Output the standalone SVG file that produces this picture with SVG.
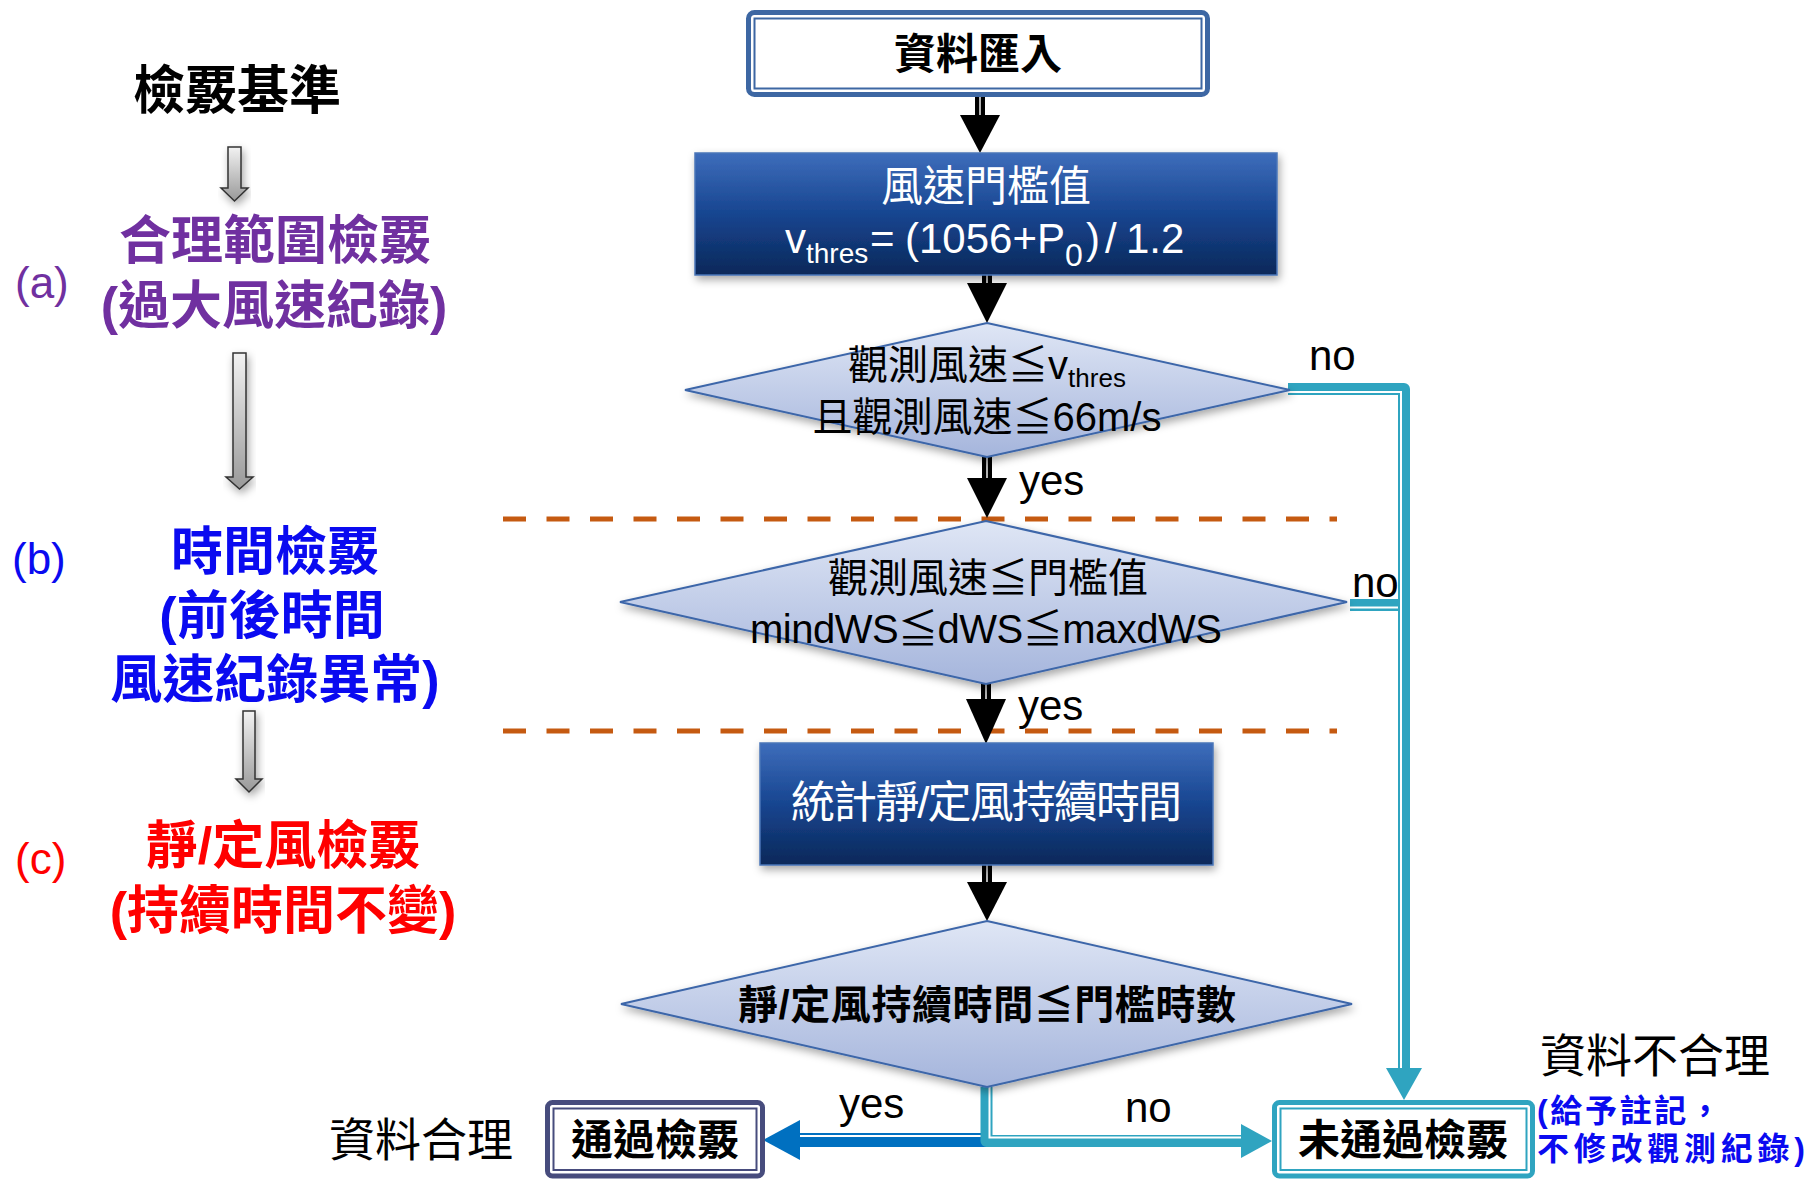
<svg xmlns="http://www.w3.org/2000/svg" width="1810" height="1179" viewBox="0 0 1810 1179">
<defs>
<linearGradient id="gBlue" x1="0" y1="0" x2="0" y2="1">
<stop offset="0" stop-color="#3e6dbb"/>
<stop offset="0.5" stop-color="#174590"/>
<stop offset="1" stop-color="#0b2859"/>
</linearGradient>
<linearGradient id="gDia" x1="0" y1="0" x2="0" y2="1">
<stop offset="0" stop-color="#dfe6f5"/>
<stop offset="1" stop-color="#a5b5dc"/>
</linearGradient>
<linearGradient id="gGray" x1="0" y1="0" x2="0" y2="1">
<stop offset="0" stop-color="#f2f2f2"/>
<stop offset="1" stop-color="#999999"/>
</linearGradient>
<filter id="sh" x="-10%" y="-10%" width="120%" height="140%">
<feDropShadow dx="2" dy="4" stdDeviation="4" flood-color="#000" flood-opacity="0.35"/>
</filter>
</defs>
<style>
.t{font-family:"Liberation Sans","Noto Sans CJK TC",sans-serif}
.b{font-weight:bold}
.w{fill:#ffffff}
.k{fill:#000000}
.m{text-anchor:middle}
.lab{font-size:42px}
.rect{fill:url(#gBlue);stroke:#4a76b8;stroke-width:1.5}
.dia{fill:url(#gDia);stroke:#3c66a9;stroke-width:2}
.garrow{fill:url(#gGray);stroke:#333;stroke-width:1.5}
.dash{stroke:#c55a11;stroke-width:5;stroke-dasharray:23 20.5;fill:none}
.teal{stroke:#2fa4c0;fill:none;stroke-linejoin:round}
.tealf{fill:#2fa4c0}
.wl{stroke:#ffffff;fill:none}
.blk{fill:#000}
</style>

<!-- left side legend -->
<g id="legend">
<text class="t b k m" x="237" y="109" font-size="52">檢覈基準</text>
<polygon class="garrow" points="228,147 241,147 241,188 248,188 234.5,201 221,188 228,188" filter="url(#sh)"/>
<text class="t" x="15" y="298" font-size="44" fill="#7030a0">(a)</text>
<text class="t b m" x="275" y="259" font-size="52" fill="#7030a0">合理範圍檢覈</text>
<text class="t b m" x="274" y="324" font-size="52" fill="#7030a0">(過大風速紀錄)</text>
<polygon class="garrow" points="233,353 246,353 246,477 253,477 239.5,489 226,477 233,477" filter="url(#sh)"/>
<text class="t" x="12" y="574" font-size="44" fill="#0a0af0">(b)</text>
<text class="t b m" x="275" y="570" font-size="52" fill="#0a0af0">時間檢覈</text>
<text class="t b m" x="272" y="634" font-size="52" fill="#0a0af0">(前後時間</text>
<text class="t b m" x="275" y="698" font-size="52" fill="#0a0af0">風速紀錄異常)</text>
<polygon class="garrow" points="243,711 255,711 255,779 262,779 249,792 236,779 243,779" filter="url(#sh)"/>
<text class="t" x="15" y="874" font-size="44" fill="#ff0000">(c)</text>
<text class="t b m" x="283" y="864" font-size="52" fill="#ff0000">靜/定風檢覈</text>
<text class="t b m" x="283" y="929" font-size="52" fill="#ff0000">(持續時間不變)</text>
</g>

<!-- dashed separators -->
<g id="separators">
<line class="dash" x1="503" y1="519" x2="1337" y2="519"/>
<line class="dash" x1="503" y1="731" x2="1337" y2="731"/>
</g>

<!-- connectors -->
<g id="connectors">
<rect class="blk" x="975" y="96" width="10" height="21"/><rect x="979.3" y="96" width="1.4" height="20" fill="#fff"/>
<polygon class="blk" points="960,115 1000,115 980,153"/>
<rect class="blk" x="982" y="274" width="10" height="11"/><rect x="986.3" y="274" width="1.4" height="10" fill="#fff"/>
<polygon class="blk" points="967,283 1007,283 987,323"/>
<rect class="blk" x="982" y="456" width="10" height="24"/><rect x="986.3" y="456" width="1.4" height="23" fill="#fff"/>
<polygon class="blk" points="967,478 1007,478 987,518"/>
<rect class="blk" x="981" y="683" width="10" height="19"/><rect x="985.3" y="683" width="1.4" height="18" fill="#fff"/>
<polygon class="blk" points="966,699 1006,699 986,744"/>
<rect class="blk" x="982" y="864" width="10" height="20"/><rect x="986.3" y="864" width="1.4" height="19" fill="#fff"/>
<polygon class="blk" points="967,882 1007,882 987,921"/>

<path class="teal" d="M1288,389 H1404 V1070" stroke-width="12"/>
<path class="wl" d="M1288,392 H1401 V1070" stroke-width="2"/>
<polygon class="tealf" points="1386,1068 1422,1068 1404,1100"/>

<path class="teal" d="M1350,605 H1400" stroke-width="12"/>
<path class="wl" d="M1350,607.5 H1398" stroke-width="2.2"/>

<path d="M986,1140 H798" stroke="#0070c0" stroke-width="14" fill="none"/>
<path d="M986,1136 H798" stroke="#ffffff" stroke-width="2" fill="none"/>
<polygon points="800,1120 800,1160 763,1140" fill="#0070c0"/>

<path class="teal" d="M986.5,1087 V1141 H1243" stroke-width="12"/>
<path class="wl" d="M989.5,1087 V1137.5 H1243" stroke-width="2"/>
<polygon class="tealf" points="1241,1124 1241,1158 1272,1141"/>
</g>

<!-- nodes -->
<g id="n_input">
<rect x="748.5" y="12.5" width="459" height="82" rx="6" fill="#fff" stroke="#3d67a3" stroke-width="5"/>
<rect x="754.5" y="18.5" width="447" height="70" fill="none" stroke="#3d67a3" stroke-width="2"/>
<text class="t b k m" x="978" y="69" font-size="42">資料匯入</text>
</g>

<g id="n_threshold">
<rect class="rect" x="695" y="153" width="582" height="122" filter="url(#sh)"/>
<text class="t w m" x="986" y="201" font-size="42">風速門檻值</text>
<text class="t w" y="253" font-size="42"><tspan x="785">v</tspan><tspan font-size="28" dy="10">thres</tspan><tspan x="870" dy="-10">=</tspan><tspan x="905">(1056+P</tspan><tspan x="1065" font-size="32" dy="13">0</tspan><tspan x="1086" dy="-13">)</tspan><tspan x="1105">/</tspan><tspan x="1126">1.2</tspan></text>
</g>

<g id="n_check1">
<polygon class="dia" points="987,323 1290,390 987,457 685,390" filter="url(#sh)"/>
<text class="t k m" x="987" y="379" font-size="40">觀測風速≦v<tspan font-size="26" dy="8">thres</tspan></text>
<text class="t k m" x="987" y="431" font-size="40">且觀測風速≦66m/s</text>
</g>

<g id="n_check2">
<polygon class="dia" points="986,521 1347,602 986,684 620,602" filter="url(#sh)"/>
<text class="t k m" x="988" y="592" font-size="40">觀測風速≦門檻值</text>
<text class="t k m" x="986" y="643" font-size="40" textLength="472">mindWS≦dWS≦maxdWS</text>
</g>

<g id="n_duration">
<rect class="rect" x="760" y="743" width="453" height="122" filter="url(#sh)"/>
<text class="t w m" x="986.5" y="818" font-size="44" textLength="391">統計靜/定風持續時間</text>
</g>

<g id="n_check3">
<polygon class="dia" points="987,921 1352,1004 987,1087 621,1004" filter="url(#sh)"/>
<text class="t b k m" x="987" y="1019" font-size="40" textLength="498">靜/定風持續時間≦門檻時數</text>
</g>

<g id="n_pass">
<rect x="547.5" y="1102.5" width="215" height="73.5" rx="5" fill="#fff" stroke="#474c7d" stroke-width="5"/>
<rect x="553.5" y="1108.5" width="203" height="61.5" fill="none" stroke="#474c7d" stroke-width="2"/>
<text class="t b k m" x="655" y="1155" font-size="42">通過檢覈</text>
</g>

<g id="n_fail">
<rect x="1274.5" y="1102.5" width="258" height="73.5" rx="5" fill="#fff" stroke="#2fa4c0" stroke-width="5"/>
<rect x="1280.5" y="1108.5" width="246" height="61.5" fill="none" stroke="#2fa4c0" stroke-width="2"/>
<text class="t b k m" x="1403" y="1155" font-size="42">未通過檢覈</text>
</g>

<!-- labels -->
<g id="labels">
<text class="t k lab" x="1309" y="370">no</text>
<text class="t k lab" x="1019" y="495">yes</text>
<text class="t k lab" x="1352" y="597">no</text>
<text class="t k lab" x="1018" y="720">yes</text>
<text class="t k lab" x="839" y="1118">yes</text>
<text class="t k lab" x="1125" y="1122">no</text>
<text class="t k m" x="421" y="1156" font-size="46">資料合理</text>
<text class="t k" x="1540" y="1072" font-size="46">資料不合理</text>
<text class="t b" x="1537" y="1122" font-size="32" textLength="184" fill="#0a0af0">(給予註記，</text>
<text class="t b" x="1537" y="1160" font-size="32" textLength="268" fill="#0a0af0">不修改觀測紀錄)</text>
</g>
</svg>
